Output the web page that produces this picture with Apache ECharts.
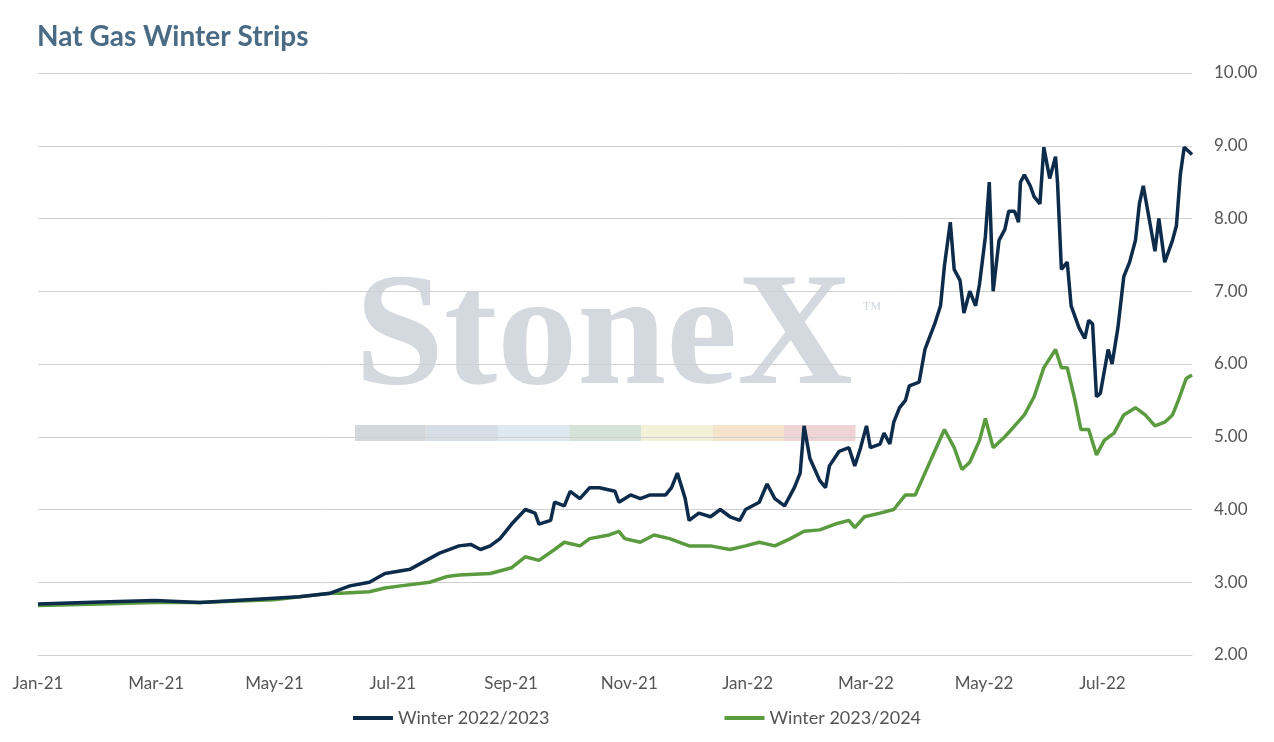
<!DOCTYPE html>
<html>
<head>
<meta charset="utf-8">
<script src="https://cdn.jsdelivr.net/npm/echarts@6/dist/echarts.min.js"></script>
<style>
  html, body { margin: 0; padding: 0; background: #fff; }
  #chart { width: 1274px; height: 742px; }
</style>
</head>
<body>
<div id="chart"></div>
<script>
// x 轴刻度标签（每两个月一个）
var monthLabels = ['Jan-21', 'Mar-21', 'May-21', 'Jul-21', 'Sep-21', 'Nov-21', 'Jan-22', 'Mar-22', 'May-22', 'Jul-22'];
// 距 2021-01-01 的天数
var winter2223Days = [0, 32, 60, 83, 121, 134, 150, 160, 170, 178, 191, 206, 216, 222, 227, 232, 237, 243, 250, 255, 257, 263, 265, 270, 273, 278, 283, 288, 296, 298, 304, 309, 314, 322, 325, 328, 332, 334, 339, 345, 350, 355, 360, 363, 370, 374, 378, 383, 388, 391, 393, 396, 401, 404, 406, 411, 416, 419, 422, 425, 427, 432, 434, 437, 439, 442, 445, 447, 452, 455, 460, 463, 465, 468, 470, 473, 475, 478, 481, 483, 486, 488, 490, 493, 496, 498, 501, 503, 504, 506, 509, 511, 514, 516, 519, 522, 523, 525, 528, 530, 534, 537, 539, 541, 543, 545, 549, 551, 554, 557, 560, 563, 565, 567, 570, 573, 575, 578, 582, 584, 586, 588, 592];
var winter2223 = [2.70, 2.73, 2.75, 2.72, 2.78, 2.80, 2.85, 2.95, 3.00, 3.12, 3.18, 3.40, 3.50, 3.52, 3.45, 3.50, 3.60, 3.80, 4.00, 3.95, 3.80, 3.85, 4.10, 4.05, 4.25, 4.15, 4.30, 4.30, 4.25, 4.10, 4.20, 4.15, 4.20, 4.20, 4.30, 4.50, 4.15, 3.85, 3.95, 3.90, 4.00, 3.90, 3.85, 4.00, 4.10, 4.35, 4.15, 4.05, 4.30, 4.50, 5.15, 4.70, 4.40, 4.30, 4.60, 4.80, 4.85, 4.60, 4.85, 5.15, 4.85, 4.90, 5.05, 4.90, 5.20, 5.40, 5.50, 5.70, 5.75, 6.20, 6.55, 6.80, 7.35, 7.95, 7.30, 7.15, 6.70, 7.00, 6.80, 7.10, 7.75, 8.50, 7.00, 7.70, 7.85, 8.10, 8.10, 7.95, 8.50, 8.60, 8.45, 8.30, 8.20, 8.98, 8.55, 8.85, 8.50, 7.30, 7.40, 6.80, 6.50, 6.35, 6.60, 6.55, 5.55, 5.60, 6.20, 6.00, 6.50, 7.20, 7.40, 7.70, 8.20, 8.45, 8.00, 7.55, 8.00, 7.40, 7.70, 7.90, 8.60, 8.98, 8.88];
var winter2324Days = [0, 32, 60, 83, 121, 150, 155, 170, 178, 186, 201, 210, 216, 232, 243, 250, 257, 265, 270, 278, 283, 293, 298, 301, 309, 316, 324, 334, 345, 355, 363, 370, 378, 386, 393, 401, 409, 416, 419, 424, 432, 439, 445, 450, 455, 460, 465, 470, 474, 478, 483, 486, 490, 496, 501, 506, 511, 516, 522, 525, 528, 532, 535, 539, 543, 547, 552, 557, 563, 568, 573, 578, 582, 585, 589, 592];
var winter2324 = [2.68, 2.70, 2.72, 2.72, 2.76, 2.85, 2.85, 2.87, 2.92, 2.95, 3.00, 3.08, 3.10, 3.12, 3.20, 3.35, 3.30, 3.45, 3.55, 3.50, 3.60, 3.65, 3.70, 3.60, 3.55, 3.65, 3.60, 3.50, 3.50, 3.45, 3.50, 3.55, 3.50, 3.60, 3.70, 3.72, 3.80, 3.85, 3.75, 3.90, 3.95, 4.00, 4.20, 4.20, 4.50, 4.80, 5.10, 4.85, 4.55, 4.65, 4.95, 5.25, 4.85, 5.00, 5.15, 5.30, 5.55, 5.95, 6.20, 5.95, 5.95, 5.50, 5.10, 5.10, 4.75, 4.95, 5.05, 5.30, 5.40, 5.30, 5.15, 5.20, 5.30, 5.50, 5.80, 5.85];

function pairs(days, vals) {
  return days.map(function (d, i) { return [d, vals[i]]; });
}

var myChart = echarts.init(document.getElementById('chart'));
// 水印色条
var barColors = ['#d3d8dd', '#d5dde6', '#dde8f1', '#d5e2d8', '#f3f1d8', '#f5e4cc', '#f0d4d4'];
var graphics = [{
  type: 'text', left: 355, top: 262, z: 0,
  style: { text: 'StoneX', font: 'bold 160px "Liberation Serif", "DejaVu Serif", serif', fill: '#d3d9df' }
}, {
  type: 'text', left: 862, top: 300, z: 0,
  style: { text: '™', font: '20px "Liberation Serif", serif', fill: '#d3d9df' }
}];
barColors.forEach(function (c, i) {
  graphics.push({ type: 'rect', z: 0, shape: { x: 355 + i * 71.5, y: 425, width: 71.5, height: 16 }, style: { fill: c } });
});

var option = {
  backgroundColor: '#fff',
  animation: false,
  title: {
    text: 'Nat Gas Winter Strips',
    left: 32, top: 18,
    textStyle: { color: '#4a6b85', fontSize: 28, fontWeight: 'bold', fontFamily: 'Lato' }
  },
  graphic: graphics,
  legend: {
    bottom: 10, left: 'center', itemGap: 175,
    icon: 'rect', itemWidth: 40, itemHeight: 4,
    textStyle: { color: '#555', fontSize: 18, fontFamily: 'Lato' },
    data: ['Winter 2022/2023', 'Winter 2023/2024']
  },
  grid: { left: 38, right: 82, top: 73, bottom: 87 },
  xAxis: {
    type: 'value', min: 0, max: 592, interval: 60.67,
    axisTick: { show: false },
    axisLine: { lineStyle: { color: '#d0d0d0' } },
    splitLine: { show: false },
    axisLabel: {
      color: '#555', fontSize: 17, fontFamily: 'Lato', margin: 20, showMaxLabel: false,
      formatter: function (v) { return monthLabels[Math.round(v / 60.67)] || ''; }
    }
  },
  yAxis: {
    type: 'value', position: 'right', min: 2, max: 10, interval: 1,
    axisLine: { show: false }, axisTick: { show: false },
    axisLabel: { color: '#555', fontSize: 17, fontFamily: 'Lato', margin: 22, formatter: function (v) { return v.toFixed(2); } },
    splitLine: { lineStyle: { color: '#d0d0d0', width: 1 } }
  },
  series: [{
    name: 'Winter 2022/2023', type: 'line', showSymbol: false, z: 3,
    lineStyle: { color: '#0d2b4b', width: 3.5 }, itemStyle: { color: '#0d2b4b' },
    data: pairs(winter2223Days, winter2223)
  }, {
    name: 'Winter 2023/2024', type: 'line', showSymbol: false, z: 2,
    lineStyle: { color: '#5b9b3f', width: 3.5 }, itemStyle: { color: '#5b9b3f' },
    data: pairs(winter2324Days, winter2324)
  }]
};
myChart.setOption(option);
</script>
</body>
</html>
